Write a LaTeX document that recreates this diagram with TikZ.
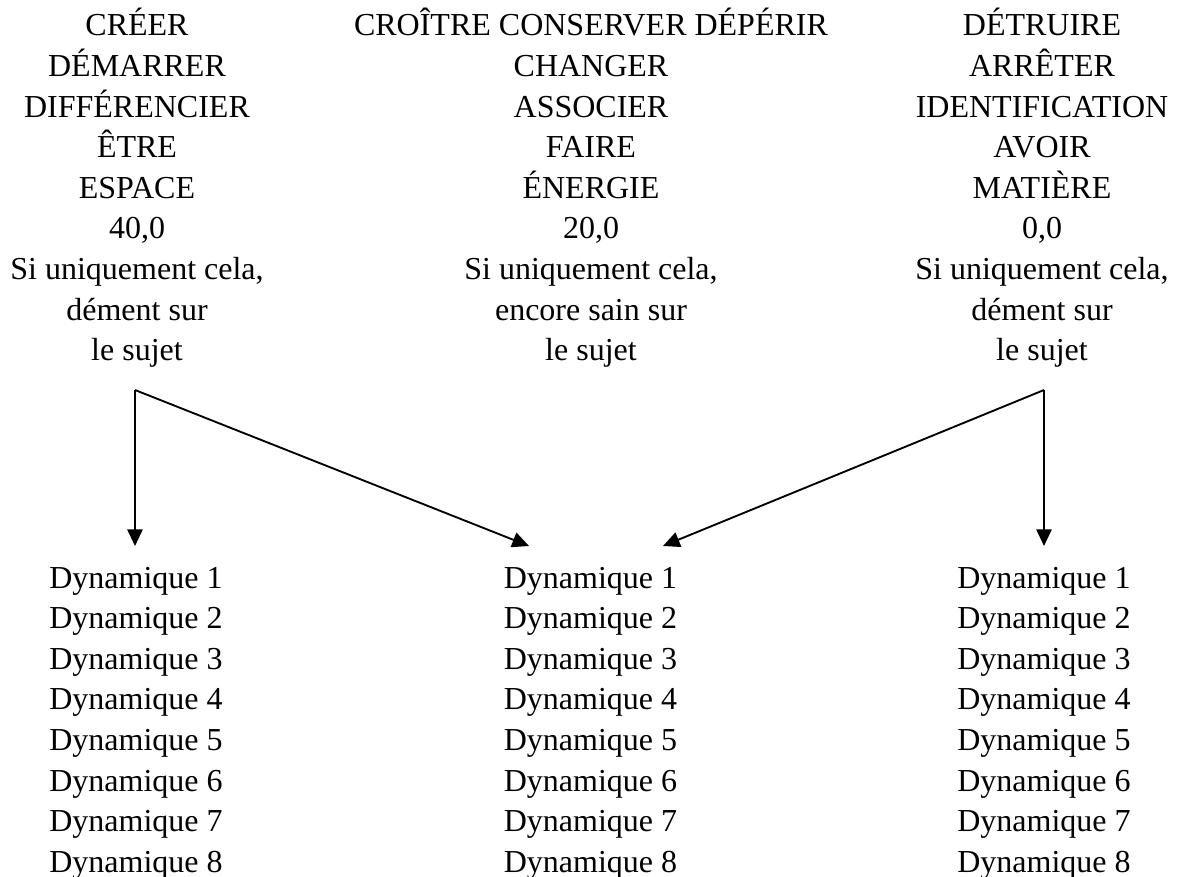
\documentclass[tikz,border=0pt]{standalone}
\usepackage{fontspec}
\setmainfont{Liberation Serif}
\usetikzlibrary{positioning,arrows.meta}

\begin{document}
\begin{tikzpicture}[x=0.75pt, y=-0.75pt,
        word/.style={inner sep=0pt, anchor=base, font=\fontsize{24}{30}\selectfont},
        line/.style={draw, -{Triangle[length=12.5pt,width=11.5pt]}, line width=1.4pt}]
        \useasboundingbox (0,0) rectangle (1179,877);

        % upper columns
        \foreach \txt [count=\i] in {CRÉER, DÉMARRER, DIFFÉRENCIER, ÊTRE, ESPACE, {40,0}, {Si uniquement cela,}, dément sur, le sujet}
            \node [word] (left\i) at (137, 36+40.6*\i-40.6) {\txt};
        \foreach \txt [count=\i] in {CROÎTRE CONSERVER DÉPÉRIR, CHANGER, ASSOCIER, FAIRE, ÉNERGIE, {20,0}, {Si uniquement cela,}, encore sain sur, le sujet}
            \node [word] (mid\i) at (591, 36+40.6*\i-40.6) {\txt};
        \foreach \txt [count=\i] in {DÉTRUIRE, ARRÊTER, IDENTIFICATION, AVOIR, MATIÈRE, {0,0}, {Si uniquement cela,}, dément sur, le sujet}
            \node [word] (right\i) at (1042, 36+40.6*\i-40.6) {\txt};

        % lower columns
        \foreach \i in {1,...,8} {
            \node [word] (leftdyn\i) at (136, 588+40.6*\i-40.6) {Dynamique \i};
            \node [word] (middyn\i) at (590.5, 588+40.6*\i-40.6) {Dynamique \i};
            \node [word] (rightdyn\i) at (1044, 588+40.6*\i-40.6) {Dynamique \i};
        }

        \coordinate (forkL) at (135,390);
        \coordinate (forkR) at (1044,390);
        \coordinate (tipL) at (135,546);
        \coordinate (tipML) at (529,546);
        \coordinate (tipMR) at (663,546);
        \coordinate (tipR) at (1044,546);

        \path [line] (forkL) -- (tipL);
        \path [line] (forkL) -- (tipML);
        \path [line] (forkR) -- (tipMR);
        \path [line] (forkR) -- (tipR);
    \end{tikzpicture}
\end{document}
